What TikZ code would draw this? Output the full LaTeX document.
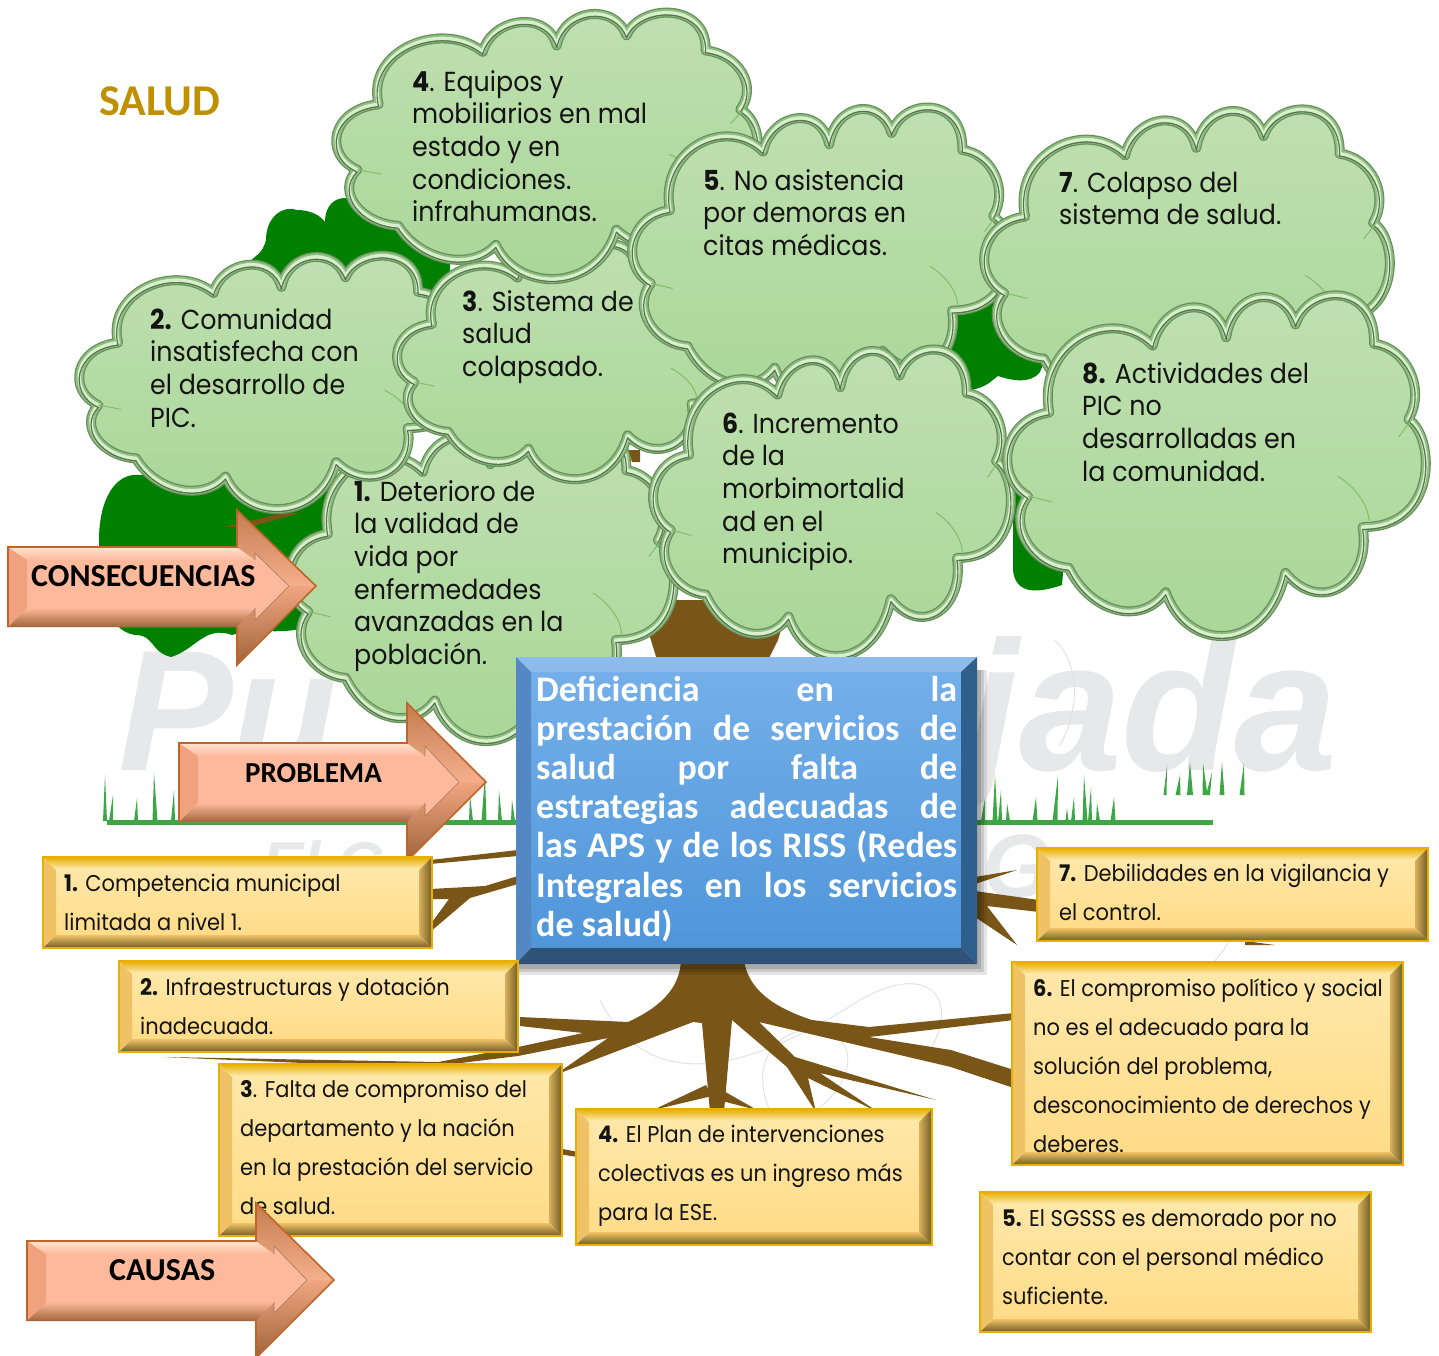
\documentclass[tikz,border=0pt]{standalone}
\usepackage{fontspec}
\setmainfont{Poppins}[FakeStretch=0.92]
\newfontfamily\hdfont{Carlito}
\newfontfamily\wmfont{Liberation Sans}
\usepackage{array}
\definecolor{rootbrown}{HTML}{7A5518}
\definecolor{leaf}{HTML}{008000}
\definecolor{wm}{HTML}{E7E8E9}
\definecolor{wmline}{HTML}{E2E2E2}
\definecolor{grass}{HTML}{3FA648}
\definecolor{titlegold}{HTML}{BF9000}
\definecolor{blueA}{HTML}{74AFEA}
\definecolor{blueB}{HTML}{4F96D9}
\definecolor{blueTop}{HTML}{8DBCEC}
\definecolor{blueLeft}{HTML}{5488C2}
\definecolor{blueRight}{HTML}{2F5F8C}
\definecolor{blueBot}{HTML}{2F5279}
\definecolor{cgA}{HTML}{C0E0B1}
\definecolor{cgB}{HTML}{A9D698}
\definecolor{cloudDark}{HTML}{668F5B}
\definecolor{cloudMid}{HTML}{8FBD81}
\definecolor{cloudBright}{HTML}{D8EFCC}
\definecolor{cloudInner}{HTML}{55744E}
\definecolor{cloudTick}{HTML}{7FBF6A}
\tikzset{
 rootfill/.style={fill=rootbrown},
 leaffill/.style={fill=leaf},
 wmtext/.style={text=wm,inner sep=0pt,anchor=base west},
 wmarc/.style={draw=wmline,line width=1pt},
 lbl/.style={anchor=base west,inner sep=0pt,text=black!92},
 cloudfill/.style={top color=cgA,bottom color=cgB},
 cloudtick/.style={draw=cloudTick,line width=1pt},
}
\newcommand\cloudP{(.102,.341) .. controls (.07,.14) and (.25,.02) .. (.348,.144)
 .. controls (.37,.015) and (.50,-.015) .. (.523,.120)
 .. controls (.54,-.02) and (.66,-.04) .. (.688,.082)
 .. controls (.72,-.04) and (.88,-.04) .. (.875,.139)
 .. controls (.95,.15) and (1.0,.27) .. (.957,.361)
 .. controls (1.02,.41) and (1.03,.68) .. (.848,.678)
 .. controls (.87,.84) and (.75,.94) .. (.664,.813)
 .. controls (.62,1.05) and (.43,1.05) .. (.379,.870)
 .. controls (.32,.97) and (.2,.93) .. (.148,.798)
 .. controls (.06,.79) and (.0,.67) .. (.051,.587)
 .. controls (-.03,.53) and (-.01,.36) .. (.102,.341) -- cycle}
\newcommand\greencloud[4]{\begin{scope}[shift={(#1+3.5,#2+3.5)},x=#3pt-7pt,y=-#4pt+7pt]
 \path[cloudfill] \cloudP;
 \draw[draw=cloudDark,line width=10pt,line join=round] \cloudP;
 \draw[draw=cloudMid,line width=7.5pt,line join=round] \cloudP;
 \draw[draw=cloudBright,line width=3.5pt,line join=round] \cloudP;
 \draw[yshift=-2.4pt,draw=cloudInner,line width=1.2pt,line join=round] \cloudP;
 \draw[cloudtick] (.789,.529) .. controls (.83,.56) and (.86,.61) .. (.863,.658);
 \draw[cloudtick] (.934,.413) -- (.965,.361);
 \draw[cloudtick] (.051,.587) -- (.109,.604);
\end{scope}}
\newcommand\bevarrow[8]{%
 \pgfmathsetmacro\ax{#1+19}\pgfmathsetmacro\ay{#2+13}\pgfmathsetmacro\az{#3-19}%
 \pgfmathsetmacro\ah{#4+18}\pgfmathsetmacro\at{#5+43}\pgfmathsetmacro\ab{#6-45}%
 \pgfmathsetmacro\ap{#7-27}%
 \fill[fill=arrowFace] (#1,#2)--(#4,#2)--(#4,#5)--(#7,#8)--(#4,#6)--(#4,#3)--(#1,#3)--cycle;
 \fill[fill=arrowLeft] (#1,#2)--(\ax,\ay)--(\ax,\az)--(#1,#3)--cycle;
 \path[top color=arrowTop,bottom color=arrowFace] (#1,#2)--(#4,#2)--(\ah,\ay)--(\ax,\ay)--cycle;
 \path[top color=arrowHeadA,bottom color=arrowHeadB] (#4,#2)--(#4,#5)--(#7,#8)--(\ap,#8)--(\ah,\at)--(\ah,\ay)--cycle;
 \path[top color=arrowHeadC,bottom color=arrowHeadD] (#7,#8)--(#4,#6)--(#4,#3)--(\ah,\az)--(\ah,\ab)--(\ap,#8)--cycle;
 \path[top color=arrowFace,bottom color=arrowHeadD] (\ax,\az)--(\ah,\az)--(#4,#3)--(#1,#3)--cycle;
 \draw[draw=arrowLine,line width=.6pt] (\ah,\ay)--(\ah,\at)--(\ap,#8)--(\ah,\ab)--(\ah,\az);
 \draw[draw=arrowEdge,line width=1.6pt,line join=miter] (#1,#3)--(#1,#2)--(#4,#2)--(#4,#5)--(#7,#8)--(#4,#6)--(#4,#3);
}
\definecolor{arrowFace}{HTML}{FDB99B}
\definecolor{arrowLeft}{HTML}{EFA27D}
\definecolor{arrowTop}{HTML}{FFE4D2}
\definecolor{arrowHeadA}{HTML}{C47C50}
\definecolor{arrowHeadB}{HTML}{F4B08C}
\definecolor{arrowHeadC}{HTML}{F0A680}
\definecolor{arrowHeadD}{HTML}{A0643A}
\definecolor{arrowLine}{HTML}{A87A60}
\definecolor{arrowEdge}{HTML}{C06428}
\newcommand\bevbox[4]{%
 \pgfmathsetmacro\bl{#1+13}\pgfmathsetmacro\bt{#2+13}\pgfmathsetmacro\br{#3-13}\pgfmathsetmacro\bb{#4-13}%
 \path[top color=boxTop,bottom color=boxB] (\bl,\bt) rectangle (\br,\bb);
 \path[top color=boxEdgeT,bottom color=boxA] (#1,#2)--(#3,#2)--(\br,\bt)--(\bl,\bt)--cycle;
 \fill[fill=boxLeft] (#1,#2)--(\bl,\bt)--(\bl,\bb)--(#1,#4)--cycle;
 \path[left color=boxRightA,right color=boxDark] (#3,#2)--(\br,\bt)--(\br,\bb)--(#3,#4)--cycle;
 \path[top color=boxLeft,bottom color=boxDark] (#1,#4)--(\bl,\bb)--(\br,\bb)--(#3,#4)--cycle;
 \draw[draw=boxEdgeT,line width=1.6pt] (#1,#2) rectangle (#3,#4);
}
\definecolor{boxTop}{HTML}{FFE7A8}
\definecolor{boxB}{HTML}{FFDC88}
\definecolor{boxA}{HTML}{FFEFBE}
\definecolor{boxEdgeT}{HTML}{E8AE00}
\definecolor{boxLeft}{HTML}{EFC265}
\definecolor{boxRightA}{HTML}{D8B05C}
\definecolor{boxDark}{HTML}{6F5C24}
\newcommand\ctext[4]{\node[lbl,font=\fontsize{27.5}{32.7}\selectfont] (#1) at (#2,#3) {\begin{tabular}[t]{@{}l@{}}#4\end{tabular}};}
\newcommand\btext[4]{\node[lbl,font=\fontsize{22.8}{39.2}\selectfont] (#1) at (#2,#3) {\begin{tabular}[t]{@{}l@{}}#4\end{tabular}};}
\newcommand\jline[1]{\hbox to 421pt{\spaceskip=.22em plus 1fil minus .1em\relax #1}}
\newcommand\blade[5]{\fill[fill=#5] (#1-#4,#2)--(#3)--(#1+#4,#2)--cycle;}
\begin{document}
\begin{tikzpicture}[x=1pt,y=-1pt]
\useasboundingbox (0,0) rectangle (1439,1355);
\clip (0,0) rectangle (1439,1355);
% watermark
\node[wmtext,font=\wmfont\bfseries\itshape\fontsize{172}{172}\selectfont] (wmA) at (118,770) {Pu};
\node[wmtext,anchor=base east,font=\wmfont\bfseries\itshape\fontsize{185}{185}\selectfont] (wmB) at (1338,770) {jada};
\node[wmtext,font=\wmfont\bfseries\itshape\fontsize{62}{62}\selectfont] (wmC) at (262,885) {El C};
\node[wmtext,font=\wmfont\bfseries\itshape\fontsize{90}{90}\selectfont] (wmD) at (982,897) {G};
\draw[wmarc] (600,1000) .. controls (640,1080) and (720,1090) .. (860,1000) .. controls (930,960) and (960,1000) .. (930,1050);
\draw[wmarc] (780,1130) .. controls (730,1050) and (800,1010) .. (840,1040) .. controls (860,1060) and (840,1100) .. (800,1120);
\draw[wmarc] (1230,940) .. controls (1200,990) and (1120,1040) .. (1040,1060);
\draw[wmarc] (1055,640) .. controls (1085,670) and (1075,720) .. (1060,745);
\draw[wmarc] (430,960) .. controls (400,1000) and (350,1020) .. (310,1030);
% foliage
\fill[leaffill] (99,540) .. controls (99,500) and (115,472) .. (140,475) -- (330,480) -- (320,620) .. controls (290,640) and (260,625) .. (232,635)
 .. controls (205,625) and (195,650) .. (171,657) .. controls (150,652) and (155,635) .. (135,635) .. controls (105,630) and (99,590) .. (99,540) -- cycle;
\fill[leaffill] (250,262) .. controls (255,255) and (262,255) .. (266,240) .. controls (266,215) and (285,205) .. (297,210) .. controls (310,210) and (320,215) .. (325,222) .. controls (325,205) and (335,198) .. (345,198) -- (450,240) -- (450,300) -- (250,300) -- cycle;
\fill[leaffill] (945,300) -- (1070,300) -- (1040,372) .. controls (1030,385) and (1010,380) .. (998,376) .. controls (990,382) and (985,388) .. (970,390) -- (945,390) -- cycle;
\fill[leaffill] (1013,490) -- (1013,570) .. controls (1015,590) and (1030,596) .. (1062,585) -- (1070,490) -- cycle;
% trunk and twigs
\fill[rootfill] (640,600) -- (790,600) -- (778,640) -- (768,660) -- (657,660) -- (650,637) -- cycle;
\fill[rootfill] (225,527) -- (282,513) -- (300,513) -- (250,527) -- cycle;
\fill[rootfill] (628,450) -- (640,450) -- (640,462) -- (632,462) -- cycle;
% clouds
\greencloud{285}{423}{393}{322}
\greencloud{75}{253}{395}{260}
\greencloud{393}{240}{355}{243}
\greencloud{332}{10}{430}{273}
\greencloud{628}{105}{385}{305}
\greencloud{980}{107}{414}{318}
\greencloud{649}{347}{366}{313}
\greencloud{1003}{293}{427}{347}
\ctext{t4}{412}{91}{\textbf{4}. Equipos y\\mobiliarios en mal\\estado y en\\condiciones.\\infrahumanas.}
\ctext{t5}{703}{190}{\textbf{5}. No asistencia\\por demoras en\\citas médicas.}
\ctext{t7}{1059}{192}{\textbf{7}. Colapso del\\sistema de salud.}
\ctext{t8}{1082}{383}{\textbf{8.} Actividades del\\PIC no\\desarrolladas en\\la comunidad.}
\ctext{t6}{722}{433}{\textbf{6}. Incremento\\de la\\morbimortalid\\ad en el\\municipio.}
\ctext{t2}{150}{329}{\textbf{2.} Comunidad\\insatisfecha con\\el desarrollo de\\PIC.}
\ctext{t3}{462}{311}{\textbf{3}. Sistema de\\salud\\colapsado.}
\ctext{t1}{354}{501}{\textbf{1.} Deterioro de\\la validad de\\vida por\\enfermedades\\avanzadas en la\\población.}
\node[lbl,text=titlegold,font=\hdfont\bfseries\fontsize{44}{44}\selectfont] (title) at (99,115) {SALUD};
% ground
\fill[fill=grass] (107,820) rectangle (1213,825);
\foreach \a/\b/\c/\d in {105/821/{105,775}/2, 111/821/{113,795}/2, 136/821/{137,798}/2, 155/821/{154,773}/2.5, 173/821/{174,790}/2,
 471/821/{470,795}/2, 484/821/{485,775}/2.5, 500/821/{499,790}/2, 513/821/{512,800}/2,
 983/821/{985,798}/2, 995/821/{995,775}/2.5, 1000/821/{1001,790}/2, 1008/821/{1007,803}/2, 1035/821/{1036,797}/2.5,
 1055/821/{1058,775}/2.5, 1067/821/{1067,808}/1.5, 1073/821/{1074,797}/2, 1085/821/{1084,775}/2.5, 1090/821/{1091,787}/2, 1098/821/{1097,803}/2, 1113/821/{1114,797}/2.5}
 {\blade{\a}{\b}{\c}{\d}{grass}}
\foreach \a/\c/\d in {1165/{1167,765}/1.5, 1178/{1180,775}/2.5, 1190/{1190,762}/3, 1205/{1203,763}/2.5, 1208/{1212,772}/2, 1222/{1222,762}/2.5, 1242/{1244,763}/2.5}
 {\blade{\a}{795}{\c}{\d}{grass}}
% roots
\fill[rootfill] (681,960) .. controls (680,985) and (665,1005) .. (628,1022) -- (520,1017) -- (520,1026) -- (583,1033) -- (518,1047) -- (438,1062) -- (163,1057) -- (420,1068) -- (518,1056) -- (608,1038) -- (555,1075) -- (693,1022) -- (702,1023) -- (710,1112) -- (724,1112) -- (732,1020) -- (787,1067) -- (816,1112) -- (808,1078) -- (878,1112) -- (820,1073) -- (936,1100) -- (795,1057) -- (759,1022) -- (951,1067) -- (1014,1088) -- (1014,1070) -- (951,1050) -- (869,1037) -- (1014,1020) -- (1014,1013) -- (869,1027) -- (812,1020) .. controls (775,1008) and (748,990) .. (744,960) -- cycle;
\fill[rootfill] (706,1085)--(653,1110)--(712,1096)--cycle;
\fill[rootfill] (722,1090)--(757,1110)--(722,1101)--cycle;
\fill[rootfill] (518,850)--(430,860)--(430,864)--(518,856)--cycle;
\fill[rootfill] (518,876)--(485,886)--(430,889)--(430,899)--(449,899)--(430,925)--(430,932)--(470,898)--(518,884)--cycle;
\fill[rootfill] (975,877)--(1017,870)--(975,884)--cycle;
\fill[rootfill] (975,891)--(1039,900)--(1039,912)--(987,906)--(1017,945)--(975,917)--cycle;
\fill[rootfill] (1245,941)--(1275,945)--(1245,945)--cycle;
\fill[rootfill] (558,1148)--(578,1152)--(578,1157)--(558,1154)--cycle;
% arrows
\bevarrow{8}{547}{627}{237}{510}{665}{316}{586}
\node[lbl,text=black,font=\hdfont\bfseries\fontsize{32}{32}\selectfont] (acons) at (31,586) {CONSECUENCIAS};
\bevarrow{179}{743}{822}{407}{703}{861}{486}{782}
\node[lbl,text=black,font=\hdfont\bfseries\fontsize{29}{29}\selectfont] (aprob) at (245,782) {PROBLEMA};
% blue box
\foreach \o/\e in {.10/10,.12/7,.15/4}{\fill[fill=black,opacity=\o] (518,670) rectangle (977+\e,965+\e);}
\path[top color=blueA,bottom color=blueB] (531,672) rectangle (961,948);
\fill[fill=blueTop] (516,657)--(977,657)--(961,672)--(531,672)--cycle;
\fill[fill=blueLeft] (516,657)--(531,672)--(531,948)--(516,964)--cycle;
\fill[fill=blueRight] (977,657)--(961,672)--(961,948)--(977,964)--cycle;
\fill[fill=blueBot] (516,964)--(531,948)--(961,948)--(977,964)--cycle;
\node[lbl,text=white,font=\hdfont\bfseries\fontsize{36}{39.2}\selectfont] (main) at (536,701) {\vtop{\baselineskip=39.2pt
 \jline{Deficiencia en la}\jline{prestación de servicios de}\jline{salud por falta de}\jline{estrategias adecuadas de}\jline{las APS y de los RISS (Redes}\jline{Integrales en los servicios}\hbox{de salud)}}};
% boxes
\bevbox{43}{857}{432}{948}
\btext{b1}{64}{891}{\textbf{1.} Competencia municipal\\limitada a nivel 1.}
\bevbox{119}{961}{518}{1052}
\btext{b2}{140}{995}{\textbf{2.} Infraestructuras y dotación\\inadecuada.}
\bevbox{219}{1064}{562}{1236}
\btext{b3}{240}{1097}{\textbf{3}. Falta de compromiso del\\departamento y la nación\\en la prestación del servicio\\de salud.}
\bevbox{576}{1109}{932}{1245}
\btext{b4}{598}{1142}{\textbf{4.} El Plan de intervenciones\\colectivas es un ingreso más\\para la ESE.}
\bevbox{980}{1192}{1371}{1332}
\btext{b5}{1002}{1226}{\textbf{5.} El SGSSS es demorado por no\\contar con el personal médico\\suficiente.}
\bevbox{1012}{962}{1403}{1165}
\btext{b6}{1033}{996}{\textbf{6.} El compromiso político y social\\no es el adecuado para la\\solución del problema,\\desconocimiento de derechos y\\deberes.}
\bevbox{1037}{848}{1428}{941}
\btext{b7}{1059}{881}{\textbf{7.} Debilidades en la vigilancia y\\el control.}
\bevarrow{27}{1241}{1321}{256}{1203}{1358}{334}{1280}
\node[lbl,text=black,font=\hdfont\bfseries\fontsize{32}{32}\selectfont] (acaus) at (109,1280) {CAUSAS};
\end{tikzpicture}
\end{document}
